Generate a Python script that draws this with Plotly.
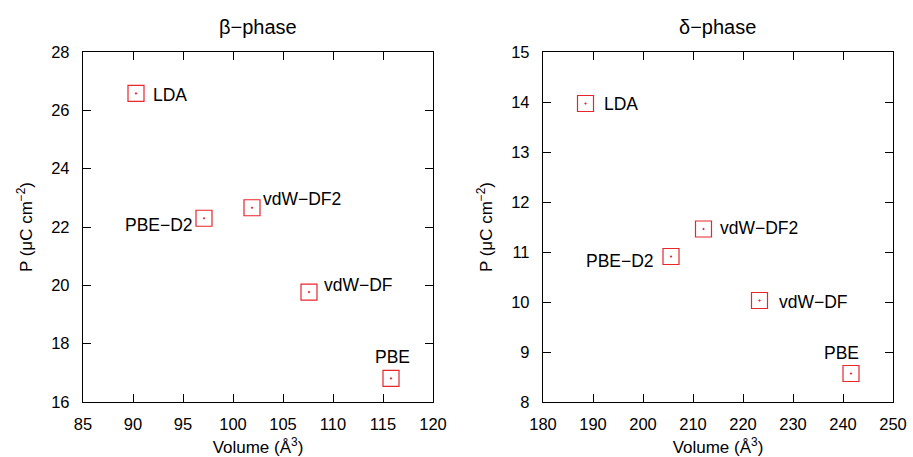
import plotly.graph_objects as go

methods = ["LDA", "PBE-D2", "vdW-DF2", "vdW-DF", "PBE"]
labels = ["LDA", "PBE−D2", "vdW−DF2", "vdW−DF", "PBE"]

beta_volume = [90.3, 97.1, 101.9, 107.6, 115.8]
beta_P = [26.58, 22.30, 22.66, 19.77, 16.81]

delta_volume = [188.5, 205.6, 212.1, 223.3, 241.6]
delta_P = [13.97, 10.91, 11.46, 10.03, 8.57]

titles = ["β−phase", "δ−phase"]
beta_xticks = [85, 90, 95, 100, 105, 110, 115, 120]
beta_yticks = [16, 18, 20, 22, 24, 26, 28]
delta_xticks = [180, 190, 200, 210, 220, 230, 240, 250]
delta_yticks = [8, 9, 10, 11, 12, 13, 14, 15]

# label placement (style): (xanchor, xshift, yshift)
beta_label_style = {
    "LDA": ("left", 15, -2),
    "PBE-D2": ("right", -9, -7),
    "vdW-DF2": ("left", 9, 9),
    "vdW-DF": ("left", 13, 7),
    "PBE": ("center", 1, 21),
}
delta_label_style = {
    "LDA": ("left", 16, 0),
    "PBE-D2": ("right", -15, -4),
    "vdW-DF2": ("left", 14, 1),
    "vdW-DF": ("left", 17, -1),
    "PBE": ("center", -10, 21),
}

FONT = "Liberation Sans, Arial, Helvetica, sans-serif"
RED = "#e8262b"

fig = go.Figure()
dom_left = [0, 350 / 810]
dom_right = [460 / 810, 1]

panels = [
    (beta_volume, beta_P, "x", "y", dom_left, [85, 120], [16, 28], beta_xticks, beta_yticks, beta_label_style),
    (delta_volume, delta_P, "x2", "y2", dom_right, [180, 250], [8, 15], delta_xticks, delta_yticks, delta_label_style),
]

for i, (xv, yv, xa, ya, dom, xr, yr, xt, yt, lstyle) in enumerate(panels):
    fig.add_trace(go.Scatter(
        x=xv, y=yv, mode="markers", xaxis=xa, yaxis=ya,
        marker=dict(symbol="square-open-dot", size=16, color=RED, line=dict(width=1.2, color=RED)),
        showlegend=False, hoverinfo="x+y",
    ))
    for m, lab, x, y in zip(methods, labels, xv, yv):
        xanc, xs, ys = lstyle[m]
        fig.add_annotation(x=x, y=y, xref=xa, yref=ya, text=lab, showarrow=False,
                           xanchor=xanc, yanchor="middle", xshift=xs, yshift=ys,
                           font=dict(size=17.5, color="black", family=FONT))
    sfx = "" if i == 0 else str(i + 1)
    axis_common = dict(showline=True, linecolor="black", linewidth=1.3, mirror="ticks",
                       ticks="inside", ticklen=8, tickwidth=1.2, tickcolor="black",
                       showgrid=False, zeroline=False, automargin=False,
                       tickfont=dict(size=16.5, color="black", family=FONT))
    fig.layout["xaxis" + sfx] = dict(axis_common, domain=dom, range=xr, tickvals=xt,
                                     anchor="y" + sfx, ticklabelstandoff=7,
                                     title=dict(text="Volume (Å<sup>3</sup>)", standoff=12,
                                                font=dict(size=17, color="black", family=FONT)))
    fig.layout["yaxis" + sfx] = dict(axis_common, domain=[0, 1], range=yr, tickvals=yt,
                                     anchor="x" + sfx, ticklabelstandoff=9,
                                     title=dict(text="P (μC cm<sup>−2</sup>)", standoff=14,
                                                font=dict(size=17, color="black", family=FONT)))
    fig.add_annotation(x=(dom[0] + dom[1]) / 2, y=1, xref="paper", yref="paper",
                       xanchor="center", yanchor="bottom", yshift=12, text=titles[i],
                       showarrow=False, font=dict(size=20, color="black", family=FONT))

fig.update_layout(width=913, height=457, margin=dict(l=83, r=20, t=52, b=55, autoexpand=False),
                  plot_bgcolor="white", paper_bgcolor="white", font=dict(family=FONT))
fig.write_html("out.html")
